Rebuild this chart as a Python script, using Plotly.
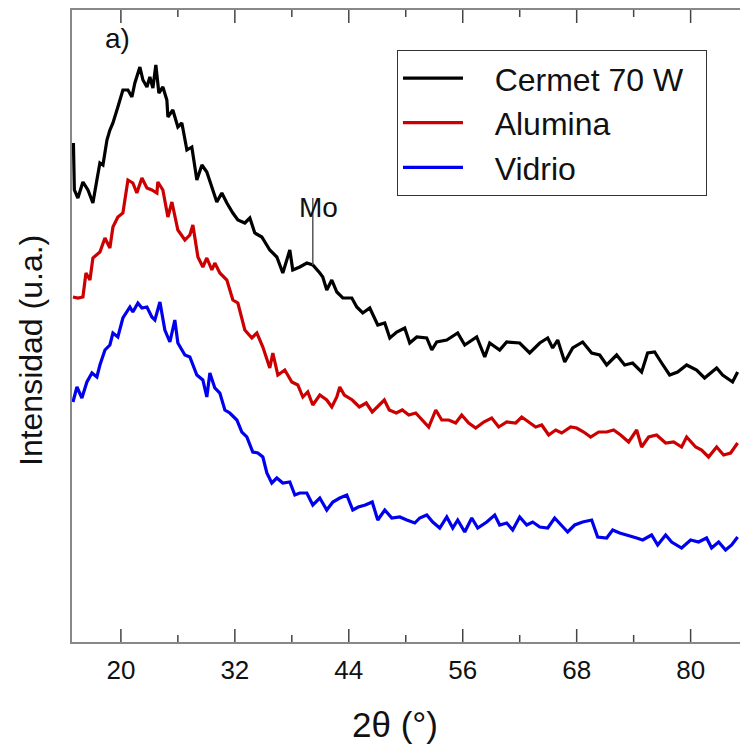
import plotly.graph_objects as go

# ---- data (2θ in degrees, intensity in arbitrary units) ----
cermet_2t = [15.0, 15.1, 15.47, 16.0, 16.53, 17.05, 17.47, 17.79, 18.11, 18.53, 18.84, 19.16, 19.68,
             20.21, 20.74, 21.16, 21.47, 22.0, 22.32, 22.74, 23.05, 23.37, 23.68, 24.0, 24.42, 24.84,
             24.95, 25.47, 26.0, 26.42, 26.95, 27.47, 28.0, 28.53, 29.05, 29.58, 30.1, 30.63, 31.16,
             31.79, 32.32, 33.05, 33.58, 34.1, 34.84, 35.68, 36.42, 37.05, 37.79, 38.1, 38.84, 39.58,
             40.21, 40.95, 41.26, 41.68, 42.21, 42.74, 43.37, 44.32, 44.84, 45.47, 46.21, 47.05, 47.79,
             48.32, 49.05, 49.89, 50.42, 51.16, 52.21, 52.74, 53.26, 54.32, 55.47, 56.21, 57.47, 58.32,
             58.84, 59.89, 60.63, 62.0, 63.05, 64.11, 64.95, 65.47, 66.0, 66.74, 67.58, 68.63, 69.58,
             70.42, 71.16, 72.21, 73.05, 73.89, 74.84, 75.47, 76.21, 76.95, 77.79, 78.63, 79.58, 80.63,
             81.47, 82.74, 83.37, 84.42, 84.95]
cermet_int = [499, 452, 444, 460, 452, 439, 462, 479, 477, 502, 512, 519, 535,
              552, 552, 545, 559, 575, 562, 555, 565, 554, 577, 549, 555, 542,
              525, 532, 515, 519, 492, 495, 462, 477, 470, 455, 440, 449, 439,
              429, 422, 419, 424, 409, 405, 392, 385, 369, 392, 372, 375, 379,
              377, 369, 365, 352, 362, 350, 344, 344, 335, 329, 334, 317, 319,
              304, 310, 314, 299, 305, 304, 292, 300, 302, 309, 297, 305, 285,
              299, 292, 300, 299, 289, 299, 304, 294, 302, 280, 294, 300, 289,
              287, 277, 287, 277, 279, 270, 289, 290, 279, 267, 270, 277, 272,
              264, 274, 267, 260, 270]

alumina_2t = [14.95, 15.47, 16.0, 16.32, 16.74, 17.05, 17.79, 18.32, 18.84, 19.16, 19.68, 20.21, 20.74,
              21.26, 21.68, 22.21, 22.74, 23.26, 23.79, 23.89, 24.42, 24.95, 25.37, 26.0, 26.74, 27.26,
              27.58, 28.11, 28.63, 29.05, 29.58, 29.89, 30.42, 31.16, 31.79, 32.32, 33.05, 33.79, 34.32,
              34.95, 35.68, 36.0, 36.53, 37.26, 38.0, 38.63, 39.16, 39.68, 40.21, 40.95, 41.68, 42.21,
              42.74, 43.05, 43.53, 44.37, 45.11, 45.84, 46.47, 47.21, 47.74, 48.26, 49.0, 49.63, 50.32,
              51.05, 51.68, 52.42, 53.16, 53.79, 54.53, 55.26, 55.89, 56.63, 57.37, 58.21, 59.05, 59.79,
              60.63, 61.58, 62.21, 62.95, 63.68, 64.32, 65.05, 65.79, 66.42, 67.37, 68.0, 68.74, 69.47,
              70.32, 71.16, 71.89, 72.63, 73.47, 74.32, 74.84, 75.58, 76.42, 77.37, 78.21, 79.05, 79.58,
              80.53, 81.16, 81.89, 82.74, 83.47, 84.21, 84.95]
alumina_int = [345, 344, 345, 369, 362, 384, 390, 404, 394, 415, 425, 429, 462,
               459, 449, 464, 454, 452, 449, 460, 452, 425, 440, 412, 402, 407,
               417, 385, 375, 384, 372, 379, 369, 362, 342, 339, 312, 304, 309,
               295, 274, 289, 267, 272, 260, 257, 245, 250, 237, 247, 242, 235,
               245, 255, 247, 242, 235, 239, 230, 237, 242, 232, 229, 232, 227,
               229, 222, 215, 232, 222, 222, 219, 227, 219, 214, 220, 224, 215,
               220, 219, 225, 220, 215, 217, 207, 212, 209, 215, 214, 210, 205,
               210, 210, 212, 207, 200, 212, 195, 205, 207, 199, 200, 195, 205,
               195, 192, 185, 195, 187, 189, 199]

vidrio_2t = [14.95, 15.37, 15.89, 16.42, 16.95, 17.47, 17.79, 18.32, 18.84, 19.16, 19.68, 20.21, 20.95,
             21.26, 21.79, 22.21, 22.74, 23.26, 23.58, 24.11, 24.63, 25.16, 25.68, 26.0, 26.74, 27.26,
             28.0, 28.63, 29.05, 29.37, 29.89, 30.42, 30.95, 31.47, 32.21, 32.74, 33.26, 33.89, 34.42,
             34.95, 35.37, 35.89, 36.42, 37.05, 37.79, 38.32, 38.84, 39.58, 40.21, 40.95, 41.68, 42.32,
             43.05, 43.79, 44.42, 45.0, 45.74, 46.47, 47.05, 47.79, 48.53, 49.37, 50.11, 50.95, 51.47,
             52.21, 52.84, 53.58, 54.32, 54.95, 55.47, 56.21, 56.95, 57.58, 58.53, 59.37, 59.89, 60.63,
             61.26, 62.0, 62.74, 63.37, 64.11, 64.95, 65.68, 66.42, 67.05, 67.79, 68.63, 69.58, 70.21,
             71.16, 71.79, 72.53, 73.37, 74.32, 74.95, 75.89, 76.53, 77.37, 78.0, 79.05, 80.0, 80.84,
             81.68, 82.21, 82.95, 83.68, 84.32, 84.95]
vidrio_int = [240, 255, 244, 260, 269, 265, 277, 292, 297, 309, 305, 324, 335,
              330, 339, 334, 335, 325, 322, 340, 312, 300, 322, 299, 287, 285,
              267, 262, 245, 269, 254, 249, 232, 229, 222, 210, 205, 190, 189,
              185, 169, 159, 164, 159, 160, 147, 149, 149, 137, 144, 132, 140,
              144, 147, 132, 135, 137, 140, 122, 132, 124, 125, 122, 119, 124,
              127, 120, 114, 125, 114, 122, 110, 124, 114, 120, 127, 117, 119,
              112, 125, 117, 120, 115, 114, 124, 117, 110, 117, 120, 122, 105,
              104, 112, 109, 107, 104, 102, 107, 97, 107, 100, 94, 102, 100,
              104, 94, 100, 92, 97, 105]

series_names = ["Cermet 70 W", "Alumina", "Vidrio"]
series_colors = ["#000000", "#cc0000", "#0000ee"]

major_ticks = [20, 32, 44, 56, 68, 80]
minor_ticks = [26, 38, 50, 62, 74]
tick_labels = ["20", "32", "44", "56", "68", "80"]

mo_2t = 40.21
mo_int = 377
mo_top = 444

FONT = "Liberation Sans, Arial, sans-serif"
NB = "\u00a0"
PLOT_H = 632.0

fig = go.Figure()
for name, xs, ys, col in zip(series_names,
                             [cermet_2t, alumina_2t, vidrio_2t],
                             [cermet_int, alumina_int, vidrio_int],
                             series_colors):
    fig.add_trace(go.Scatter(x=xs, y=ys, mode="lines", name=NB * 3 + name + NB * 2,
                             line=dict(color=col, width=3.2)))

# Mo marker line
fig.add_trace(go.Scatter(x=[mo_2t, mo_2t], y=[mo_int, mo_top], mode="lines",
                         line=dict(color="#555555", width=1.5), showlegend=False,
                         hoverinfo="skip"))

fig.add_annotation(x=40.8, y=435, text="Mo", showarrow=False,
                   font=dict(family=FONT, size=28, color="#111111"))
fig.add_annotation(x=19.6, y=604, text="a)", showarrow=False,
                   font=dict(family=FONT, size=28, color="#111111"))
# axis titles
fig.add_annotation(xref="paper", yref="paper", x=0.4835, y=-0.1313, text="2θ (°)",
                   showarrow=False, xanchor="center", yanchor="middle",
                   font=dict(family=FONT, size=35, color="#111111"))
fig.add_annotation(xref="paper", yref="paper", x=-0.0614, y=0.462, text="Intensidad (u.a.)",
                   showarrow=False, textangle=-90, xanchor="center", yanchor="middle",
                   font=dict(family=FONT, size=32, color="#111111"))

# inward tick marks on bottom and mirrored top axis
for vals, length in ((major_ticks, 13), (minor_ticks, 7)):
    frac = length / PLOT_H
    for v in vals:
        fig.add_shape(type="line", xref="x", yref="paper", x0=v, x1=v, y0=0, y1=frac,
                      line=dict(color="#444444", width=1.5))
        fig.add_shape(type="line", xref="x", yref="paper", x0=v, x1=v, y0=1 - frac, y1=1,
                      line=dict(color="#444444", width=1.5))

fig.update_layout(
    width=740, height=746,
    margin=dict(l=72, r=0, t=10, b=104),
    paper_bgcolor="white", plot_bgcolor="white",
    showlegend=True,
    legend=dict(x=0.4865, y=0.937, xanchor="left", yanchor="top",
                bordercolor="#333333", borderwidth=1, bgcolor="white",
                font=dict(family=FONT, size=32, color="#111111"),
                itemwidth=60, tracegroupgap=0),
    xaxis=dict(range=[14.85, 85.2], tickmode="array", tickvals=major_ticks, ticktext=tick_labels,
               ticks="", showline=True, linecolor="#888888", linewidth=1.5, mirror=True,
               showgrid=False, zeroline=False, ticklabelstandoff=4,
               tickfont=dict(family=FONT, size=26, color="#111111")),
    yaxis=dict(range=[0, 632], showticklabels=False, showline=True,
               linecolor="#888888", linewidth=1.5, showgrid=False, zeroline=False),
)

fig.write_html("out.html")
